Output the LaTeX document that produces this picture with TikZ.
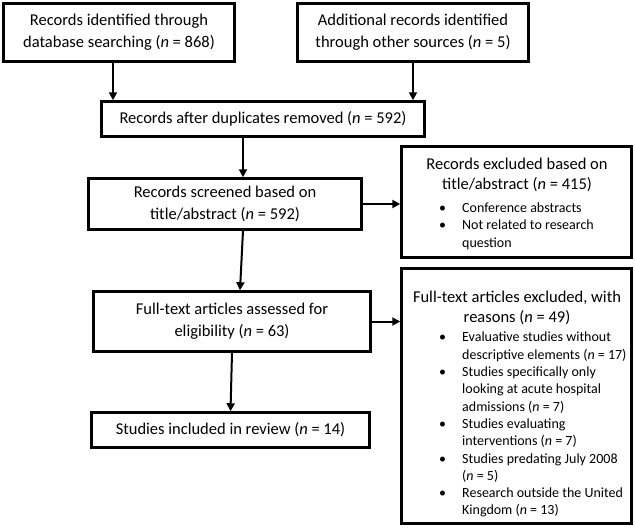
\documentclass[tikz,border=0pt]{standalone}
\usepackage{fontspec}
\setmainfont{Carlito}
\usetikzlibrary{arrows.meta}
\newcommand\bl{\makebox[24pt][l]{\hspace{1pt}•}}
\newcommand\cl{\hspace*{24pt}}
\begin{document}
\begin{tikzpicture}[x=1pt,y=-1pt,
  box/.style={draw, line width=2.5pt, inner sep=0pt, align=center,
    font=\fontsize{16.5}{22}\selectfont},
  ttl/.style={inner sep=0pt, align=center, font=\fontsize{16.5}{20}\selectfont},
  lst/.style={inner sep=0pt, align=left, anchor=north west, font=\fontsize{14}{17.3}\selectfont},
  arr/.style={line width=2pt, -{Triangle[length=8pt,width=8pt]}}]
\useasboundingbox (0,0) rectangle (635,530);
\node[box, minimum width=231pt, minimum height=58pt] (b1) at (119,32.5)
  {Records identified through\\database searching (\textit{n} = 868)};
\node[box, minimum width=231pt, minimum height=58pt] (b2) at (413,32.5)
  {Additional records identified\\through other sources (\textit{n} = 5)};
\node[box, minimum width=323pt, minimum height=35pt] (b3) at (263,119)
  {Records after duplicates removed (\textit{n} = 592)};
\node[box, minimum width=273pt, minimum height=51pt] (b4) at (225,204)
  {Records screened based on\\title/abstract (\textit{n} = 592)};
\node[box, minimum width=277pt, minimum height=60pt] (b5) at (232,321.5)
  {Full-text articles assessed for\\eligibility (\textit{n} = 63)};
\node[box, minimum width=278pt, minimum height=35pt] (b6) at (230.5,430)
  {Studies included in review (\textit{n} = 14)};
\node[box, minimum width=230pt, minimum height=111pt] (exA) at (516.5,202) {};
\node[box, minimum width=230pt, minimum height=255pt] (exB) at (516.5,396) {};
\node[ttl] (tA) at (517,175) {Records excluded based on\\title/abstract (\textit{n} = 415)};
\node[lst] (lA) at (438,202.5) {\bl Conference abstracts\\
\bl Not related to research\\
\cl question};
\node[ttl] (tB) at (517,307.5) {Full-text articles excluded, with\\reasons (\textit{n} = 49)};
\node[lst] (lB) at (438,332) {\bl Evaluative studies without\\
\cl descriptive elements (\textit{n} = 17)\\
\bl Studies specifically only\\
\cl looking at acute hospital\\
\cl admissions (\textit{n} = 7)\\
\bl Studies evaluating\\
\cl interventions (\textit{n} = 7)\\
\bl Studies predating July 2008\\
\cl (\textit{n} = 5)\\
\bl Research outside the United\\
\cl Kingdom (\textit{n} = 13)};
\draw[arr] ([xshift=-6pt]b1.south) -- ([xshift=-6pt]b1.south |- b3.north);
\draw[arr] (b2.south) -- (b2.south |- b3.north);
\draw[arr] ([xshift=-20pt]b3.south) -- ([xshift=-20pt]b3.south |- b4.north);
\draw[arr] ([xshift=18pt]b4.south) -- ([xshift=8pt]b5.north);
\draw[arr] (b5.south) -- (b6.north);
\draw[arr] (b4.east) -- (b4.east -| exA.west);
\draw[arr] (b5.east) -- (b5.east -| exB.west);
\end{tikzpicture}
\end{document}
